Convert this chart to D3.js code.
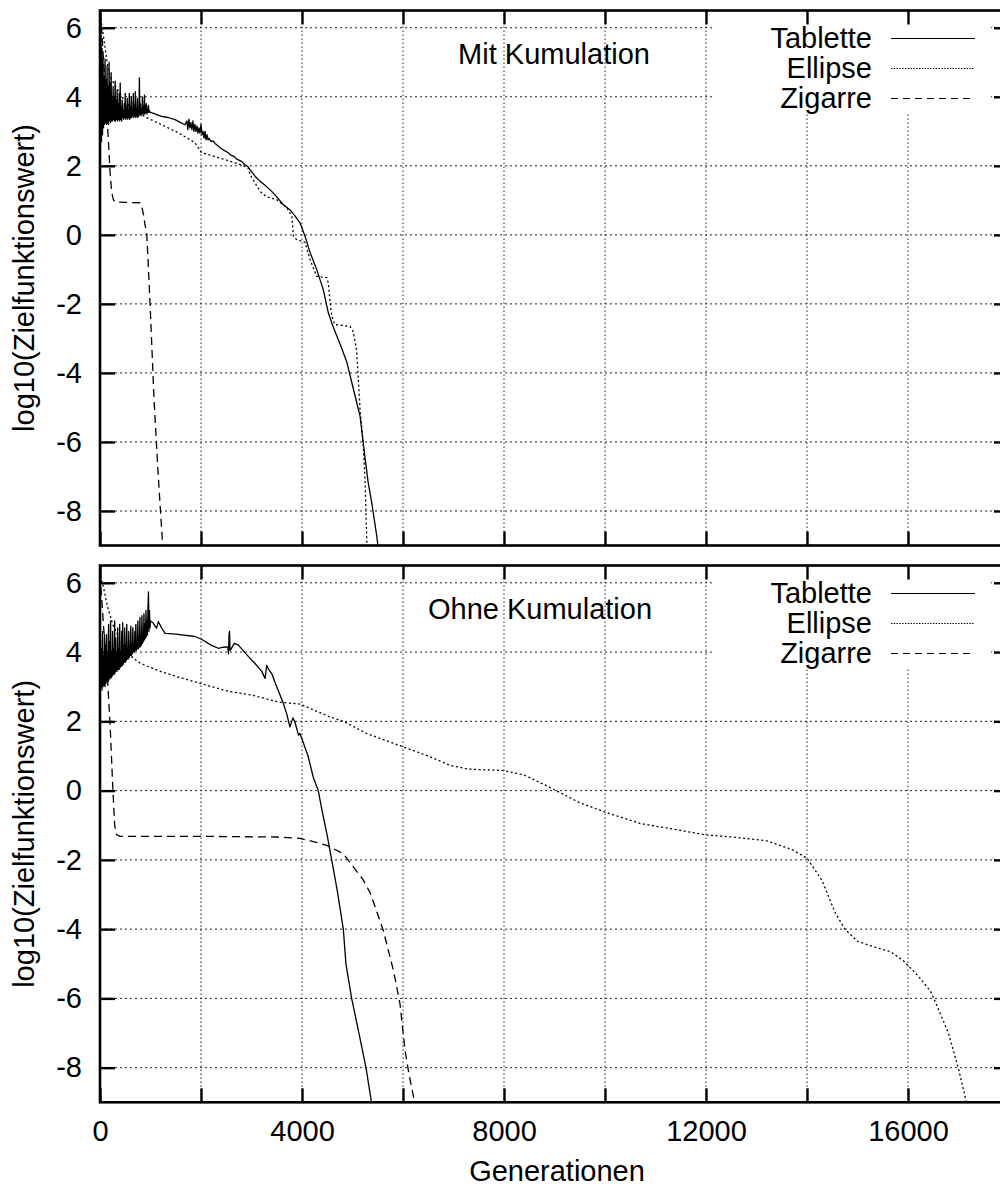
<!DOCTYPE html>
<html>
<head>
<meta charset="utf-8">
<script src="https://cdn.jsdelivr.net/npm/d3@7"></script>
<style>
  body { margin: 0; background: #fff; }
  svg { display: block; }
  text { font-family: "Liberation Sans", Arial, Helvetica, sans-serif; font-size: 29px; fill: #000; }
</style>
</head>
<body>
<svg id="chart" width="1000" height="1187"></svg>
<script>
// ---- Data: log10 of the objective value over generations ----
const xTicks = [0, 2000, 4000, 6000, 8000, 10000, 12000, 14000, 16000, 18000];
const xTickLabels = ["0", "", "4000", "", "8000", "", "12000", "", "16000", ""];
const yTicks = [-8, -6, -4, -2, 0, 2, 4, 6];
const seriesNames = ["Tablette", "Ellipse", "Zigarre"];
const panelTitles = ["Mit Kumulation", "Ohne Kumulation"];

// early noisy phase, one value every NOISE_STEP generations starting at 0
const NOISE_STEP = 10;

// --- Mit Kumulation ---
const tabletteMitNoise = [
  6.3, 2.6, 5.9, 2.7, 5.4, 2.9, 5.1, 3.1, 4.6, 3.2,
  5.1, 3.25, 4.5, 3.2, 4.9, 3.3, 4.3, 3.2, 5.0, 3.3,
  4.4, 3.25, 4.7, 3.3, 3.9, 3.3, 4.3, 3.35, 4.0, 3.3,
  4.45, 3.3, 3.9, 3.35, 4.2, 3.3, 3.8, 3.35, 4.1, 3.3,
  4.4, 3.35, 3.7, 3.3, 3.9, 3.4, 3.6, 3.35, 3.8, 3.4,
  4.1, 3.35, 3.7, 3.4, 3.95, 3.35, 3.6, 3.4, 4.1, 3.35,
  3.7, 3.4, 4.0, 3.4, 3.6, 3.45, 4.1, 3.4, 3.75, 3.45,
  4.15, 3.4, 3.65, 3.45, 3.95, 3.4, 3.7, 3.45, 4.55, 3.5,
  3.8, 3.45, 3.65, 3.5, 4.0, 3.5, 3.7, 3.5, 4.05, 3.5,
  3.75, 3.55, 3.8, 3.5, 3.65, 3.55, 3.75, 3.55, 3.6, 3.55, 3.55
];
const tabletteMit = [
  [1100, 3.5], [1220, 3.43], [1350, 3.4], [1485, 3.34], [1600, 3.25], [1683, 3.19],
  [1720, 3.3], [1740, 3.05], [1760, 3.35], [1780, 3.1], [1800, 3.25], [1820, 3.05], [1840, 3.3],
  [1860, 3.0], [1880, 3.2], [1900, 3.0], [1920, 3.15], [1940, 2.95], [1960, 3.1], [1980, 2.95],
  [2000, 3.2], [2020, 2.9], [2040, 3.0], [2060, 2.8], [2080, 3.0], [2100, 2.75], [2120, 2.9],
  [2140, 2.75], [2160, 2.8], [2200, 2.7], [2240, 2.72], [2280, 2.65], [2400, 2.5], [2540, 2.38],
  [2600, 2.3], [2650, 2.28], [2700, 2.2], [2810, 2.12], [2850, 2.05], [2930, 1.98], [2970, 1.89],
  [3070, 1.7], [3170, 1.55], [3280, 1.42], [3400, 1.26], [3500, 1.1], [3625, 0.88], [3760, 0.73],
  [3860, 0.55], [3960, 0.35], [4060, -0.04], [4160, -0.51], [4290, -1.0], [4420, -1.58],
  [4520, -2.25], [4600, -2.6], [4690, -2.93], [4790, -3.3], [4890, -3.7], [5020, -4.48],
  [5150, -5.25], [5210, -6.0], [5260, -6.6], [5310, -7.17], [5380, -7.75], [5480, -8.72], [5520, -9.2]
];
const ellipseMit = [
  [0, 6.4], [60, 5.85], [130, 5.1], [200, 4.58], [330, 4.25], [500, 3.85], [700, 3.6], [890, 3.42],
  [1220, 3.19], [1550, 2.96], [1880, 2.67], [2010, 2.38], [2200, 2.3], [2340, 2.24], [2670, 2.09],
  [2930, 1.95], [2970, 1.75], [3170, 1.26], [3300, 1.1], [3500, 1.02], [3700, 0.78], [3800, 0.54],
  [3830, -0.04], [3900, -0.15], [4000, -0.19], [4060, -0.22], [4160, -0.72], [4290, -1.2],
  [4490, -1.24], [4520, -1.39], [4560, -2.0], [4590, -2.35], [4650, -2.6], [4950, -2.65],
  [5010, -2.79], [5080, -3.32], [5120, -4.3], [5150, -5.06], [5210, -6.0], [5250, -7.17],
  [5280, -8.72], [5290, -9.2]
];
const zigarreMit = [
  [0, 6.45], [40, 5.8], [80, 4.8], [120, 3.8], [160, 2.9], [200, 1.8], [230, 1.25], [265, 1.02],
  [300, 0.95], [500, 0.94], [790, 0.93], [830, 0.8], [860, 0.6], [890, 0.3], [925, 0.06],
  [960, -1.0], [1000, -2.3], [1070, -4.77], [1150, -6.9], [1235, -8.87], [1245, -9.2]
];

// --- Ohne Kumulation ---
const tabletteOhneNoise = [
  3.6, 4.4, 3.0, 4.1, 2.9, 4.6, 3.0, 3.9, 3.05, 4.5,
  3.0, 4.2, 3.1, 4.5, 3.15, 3.9, 3.15, 4.8, 3.2, 4.3,
  3.25, 4.9, 3.25, 4.0, 3.3, 4.6, 3.35, 4.1, 3.35, 4.9,
  3.4, 4.4, 3.45, 4.0, 3.45, 4.7, 3.5, 4.1, 3.5, 4.8,
  3.55, 4.0, 3.6, 4.6, 3.6, 4.85, 3.65, 4.1, 3.7, 4.7,
  3.7, 4.2, 3.75, 4.8, 3.8, 4.1, 3.8, 4.6, 3.85, 4.15,
  3.9, 4.75, 3.9, 4.2, 3.95, 4.7, 4.0, 4.2, 4.0, 4.6,
  4.05, 4.8, 4.05, 4.3, 4.1, 4.9, 4.1, 4.4, 4.15, 5.0,
  4.15, 4.5, 4.2, 5.05, 4.25, 4.6, 4.3, 5.1, 4.35, 4.8,
  4.4, 5.2, 4.45, 4.9, 4.5, 5.3, 5.74, 4.6, 5.2, 4.7, 4.9
];
const tabletteOhne = [
  [1060, 4.83], [1090, 4.75], [1120, 4.69], [1155, 4.88], [1220, 4.7], [1290, 4.54],
  [1500, 4.52], [1880, 4.45], [2010, 4.37], [2200, 4.2], [2340, 4.11], [2450, 4.14], [2530, 4.15],
  [2545, 3.95], [2555, 4.5], [2565, 4.6], [2575, 4.05], [2600, 4.1], [2660, 4.25], [2740, 4.2],
  [2800, 4.1], [2940, 3.87], [3070, 3.67], [3200, 3.45], [3270, 3.24], [3300, 3.62], [3340, 3.5],
  [3400, 3.38], [3500, 3.0], [3630, 2.52], [3700, 2.2], [3760, 1.84], [3820, 2.1], [3860, 1.98],
  [3930, 1.6], [3960, 1.65], [4120, 1.0], [4220, 0.4], [4322, 0.0], [4400, -0.6], [4500, -1.3],
  [4588, -2.0], [4700, -2.9], [4818, -4.0], [4870, -5.0], [4983, -6.0], [5120, -6.95],
  [5267, -8.0], [5380, -9.04]
];
const ellipseOhne = [
  [0, 6.2], [65, 5.9], [150, 5.3], [265, 4.75], [400, 4.35], [520, 4.05], [660, 3.82], [800, 3.68],
  [890, 3.62], [1220, 3.43], [1550, 3.28], [1880, 3.14], [2210, 3.0], [2540, 2.87], [3000, 2.76],
  [3560, 2.55], [3960, 2.5], [4550, 2.13], [4820, 2.0], [5280, 1.65], [6010, 1.26], [6500, 1.0],
  [6930, 0.73], [7300, 0.62], [8000, 0.58], [8400, 0.45], [8900, 0.1], [9500, -0.35],
  [10000, -0.62], [10700, -0.95], [11500, -1.15], [12000, -1.28], [12600, -1.35], [13200, -1.45],
  [13700, -1.7], [14000, -1.95], [14300, -2.6], [14550, -3.5], [14750, -4.0], [15000, -4.35],
  [15300, -4.5], [15650, -4.65], [15900, -4.9], [16200, -5.35], [16450, -5.8], [16600, -6.3],
  [16800, -7.0], [17000, -8.03], [17150, -8.96], [17170, -9.2]
];
const zigarreOhne = [
  [0, 6.25], [50, 5.2], [100, 4.1], [150, 3.2], [200, 1.9], [250, 0.2], [290, -1.0], [330, -1.28],
  [400, -1.32], [2000, -1.32], [3500, -1.34], [3960, -1.38], [4300, -1.5], [4490, -1.58],
  [4820, -1.82], [5020, -2.21], [5200, -2.55], [5350, -2.95], [5470, -3.45], [5610, -4.04],
  [5810, -5.19], [5940, -6.15], [6040, -7.5], [6120, -8.2], [6210, -8.85], [6240, -9.2]
];

// ---- Layout ----
const svg = d3.select("#chart");
const plotLeft = 100, plotRight = 1009;
const x = d3.scaleLinear().domain([0, 18000]).range([plotLeft, plotRight]);
const yDomain = [-9, 6.5];

const withNoise = (noise, rest) => noise.map((v, i) => [i * NOISE_STEP, v]).concat(rest);

const panels = [
  { top: 10.5, bottom: 545.5, title: panelTitles[0], titleX: 554, titleY: 64,
    series: [withNoise(tabletteMitNoise, tabletteMit), ellipseMit, zigarreMit], xLabels: false },
  { top: 565.5, bottom: 1102.3, title: panelTitles[1], titleX: 540, titleY: 619,
    series: [withNoise(tabletteOhneNoise, tabletteOhne), ellipseOhne, zigarreOhne], xLabels: true }
];

const styles = [
  { dash: null, legendDash: null },
  { dash: "2,2.6", legendDash: "1.4,1.4" },
  { dash: "8,5", legendDash: "7,5" }
];

panels.forEach((p, pi) => {
  const y = d3.scaleLinear().domain(yDomain).range([p.bottom, p.top]);
  const g = svg.append("g");

  const clipId = "clip" + pi;
  svg.append("clipPath").attr("id", clipId)
    .append("rect").attr("x", plotLeft).attr("y", p.top)
    .attr("width", plotRight - plotLeft).attr("height", p.bottom - p.top);

  // grid
  const grid = g.append("g").attr("stroke", "#222").attr("stroke-width", 1).attr("fill", "none");
  grid.selectAll("line.gx").data(xTicks.filter(v => v > 0 && v < 18000)).join("line")
    .attr("x1", d => x(d)).attr("x2", d => x(d))
    .attr("y1", p.top).attr("y2", p.bottom)
    .attr("stroke-dasharray", "1.5,2.5");
  grid.selectAll("line.gy").data(yTicks).join("line")
    .attr("x1", plotLeft).attr("x2", plotRight)
    .attr("y1", d => y(d)).attr("y2", d => y(d))
    .attr("stroke-dasharray", "2,3");

  // opaque key area
  const keyTop = p.top + 2, rowH = 30;
  g.append("rect").attr("x", 712).attr("y", keyTop).attr("width", 279).attr("height", 100)
    .attr("fill", "#fff");

  // panel title
  g.append("text").attr("x", p.titleX).attr("y", p.titleY).attr("text-anchor", "middle").text(p.title);

  // curves
  const line = d3.line().x(d => x(d[0])).y(d => y(d[1]));
  const curves = g.append("g").attr("clip-path", `url(#${clipId})`);
  p.series.forEach((s, si) => {
    curves.append("path").datum(s)
      .attr("d", line)
      .attr("fill", "none")
      .attr("stroke", "#000")
      .attr("stroke-width", 1.3)
      .attr("stroke-linejoin", "round")
      .attr("stroke-dasharray", styles[si].dash);
  });

  // key
  seriesNames.forEach((name, si) => {
    const ly = keyTop + 26 + si * rowH;
    g.append("text").attr("x", 872).attr("y", ly).attr("dy", "0.34em")
      .attr("text-anchor", "end").text(name);
    g.append("line").attr("x1", 891).attr("x2", 975).attr("y1", ly).attr("y2", ly)
      .attr("stroke", "#000").attr("stroke-width", 1.2)
      .attr("stroke-dasharray", styles[si].legendDash);
  });

  // axes with inward ticks
  const axL = d3.axisLeft(y).tickValues(yTicks).tickSize(-15).tickPadding(18).tickFormat(d => String(d));
  const axR = d3.axisRight(y).tickValues(yTicks).tickSize(-15).tickFormat("");
  const axB = d3.axisBottom(x).tickValues(xTicks).tickSize(-14).tickPadding(18.5)
    .tickFormat((d, i) => p.xLabels ? xTickLabels[i] : "");
  const axT = d3.axisTop(x).tickValues(xTicks).tickSize(-14).tickFormat("");

  const addAxis = (ax, tx, ty) => {
    const a = g.append("g").attr("transform", `translate(${tx},${ty})`).call(ax);
    a.select(".domain").remove();
    a.selectAll(".tick line").attr("stroke", "#000").attr("stroke-width", 2.4);
    a.selectAll(".tick text").attr("font-size", 29).attr("font-family", null).attr("fill", "#000");
    return a;
  };
  addAxis(axL, plotLeft, 0);
  addAxis(axR, plotRight, 0);
  addAxis(axB, 0, p.bottom);
  addAxis(axT, 0, p.top);

  // border
  g.append("rect").attr("x", plotLeft).attr("y", p.top)
    .attr("width", plotRight - plotLeft).attr("height", p.bottom - p.top)
    .attr("fill", "none").attr("stroke", "#000").attr("stroke-width", 2.6);

  // y axis title
  g.append("text")
    .attr("transform", `translate(34,${(p.top + p.bottom) / 2}) rotate(-90)`)
    .attr("text-anchor", "middle")
    .text("log10(Zielfunktionswert)");
});

// x axis title
svg.append("text").attr("x", 557).attr("y", 1181).attr("text-anchor", "middle").text("Generationen");
</script>
</body>
</html>
